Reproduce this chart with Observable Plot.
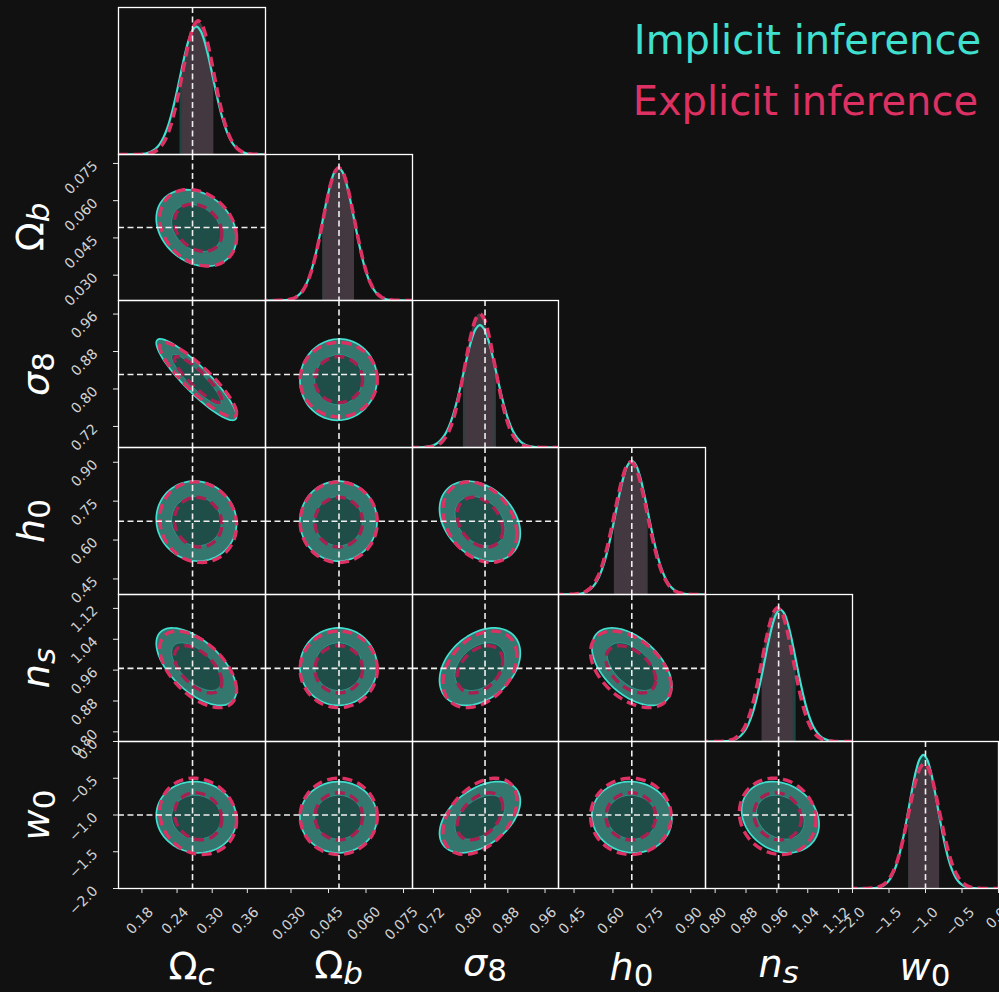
<!DOCTYPE html>
<html>
<head>
<meta charset="utf-8">
<script src="https://cdn.jsdelivr.net/npm/d3@7"></script>
<script src="https://cdn.jsdelivr.net/npm/@observablehq/plot@0.6"></script>
<style>
html,body{margin:0;padding:0;background:#111111;}
#fig{position:relative;width:999px;height:992px;background:#111111;overflow:hidden;font-family:"DejaVu Sans",sans-serif;}
#fig svg{position:absolute;left:0;top:0;}
.legend{position:absolute;right:18px;font-size:40px;line-height:40px;height:40px;white-space:nowrap;}
.plab{position:absolute;font-size:38px;line-height:38px;height:38px;color:#ffffff;white-space:nowrap;}
.plab .sub{font-size:31px;line-height:31px;vertical-align:-6px;}
.it{font-style:italic;}
</style>
</head>
<body>
<div id="fig"></div>
<script>
// ---------------- data ----------------
const params = ["Omega_c", "Omega_b", "sigma_8", "h_0", "n_s", "w_0"];
const labelMain = ["Ω", "Ω", "σ", "h", "n", "w"];
const labelSub = ["c", "b", "8", "0", "s", "0"];
const mainItalic = [false, false, true, true, true, true];
const subItalic = [true, true, false, false, true, false];

const truthValues = [0.2664, 0.0492, 0.831, 0.6727, 0.9645, -1.0];
const axisMin = [0.140, 0.0198, 0.675, 0.390, 0.775, -2.0];
const axisMax = [0.391, 0.0786, 0.989, 0.957, 1.156, 0.0];

const tickValues = [
  [0.18, 0.24, 0.30, 0.36],
  [0.030, 0.045, 0.060, 0.075],
  [0.72, 0.80, 0.88, 0.96],
  [0.45, 0.60, 0.75, 0.90],
  [0.80, 0.88, 0.96, 1.04, 1.12],
  [-2.0, -1.5, -1.0, -0.5, 0.0]
];
const tickLabels = [
  ["0.18", "0.24", "0.30", "0.36"],
  ["0.030", "0.045", "0.060", "0.075"],
  ["0.72", "0.80", "0.88", "0.96"],
  ["0.45", "0.60", "0.75", "0.90"],
  ["0.80", "0.88", "0.96", "1.04", "1.12"],
  ["−2.0", "−1.5", "−1.0", "−0.5", "0.0"]
];

// posterior summaries (peak position and 1-sigma width) per parameter
const implicitMean  = [0.273, 0.0490, 0.820, 0.673, 0.969, -1.030];
const implicitSigma = [0.0280, 0.0063, 0.0355, 0.0630, 0.0410, 0.198];
const explicitMean  = [0.276, 0.0491, 0.820, 0.669, 0.962, -1.018];
const explicitSigma = [0.0268, 0.0063, 0.0325, 0.0635, 0.0405, 0.212];

// parameter pairs (row, column) of the lower triangle and their correlations
const pairRow = [1, 2, 2, 3, 3, 3, 4, 4, 4, 4, 5, 5, 5, 5, 5];
const pairCol = [0, 0, 1, 0, 1, 2, 0, 1, 2, 3, 0, 1, 2, 3, 4];
const implicitCorr = [-0.25, -0.90, 0.02, -0.05, 0.00, -0.30, -0.60, 0.00, 0.35, -0.50, -0.05, 0.00, 0.45, -0.05, -0.20];
const explicitCorr = [-0.25, -0.89, 0.00, -0.08, 0.00, -0.30, -0.55, 0.00, 0.35, -0.45, -0.12, 0.00, 0.42, 0.00, -0.10];

// credible levels of the 2D contours
const contourLevels = [0.68, 0.95];

// marginal profile: relative height vs distance from the peak (in sigma units)
const marginalZ = [-16, -8, -5, -4, -3.5, -3.25, -3, -2.75, -2.5, -2.25, -2, -1.75, -1.5, -1.25, -1, -0.75, -0.5, -0.25, 0,
  0.25, 0.5, 0.75, 1, 1.25, 1.5, 1.75, 2, 2.25, 2.5, 2.75, 3, 3.25, 3.5, 4, 5, 8, 16];
const marginalShape = [0, 0, 0, 0.0003, 0.0022, 0.0051, 0.0111, 0.0228, 0.0439, 0.0796, 0.1353, 0.2163, 0.3247, 0.4578, 0.6065, 0.7548, 0.8825, 0.9692, 1,
  0.9692, 0.8825, 0.7548, 0.6065, 0.4578, 0.3247, 0.2163, 0.1353, 0.0796, 0.0439, 0.0228, 0.0111, 0.0051, 0.0022, 0.0003, 0, 0, 0];

const legendNames = ["Implicit inference", "Explicit inference"];

// ---------------- styles & layout ----------------
const C = {
  imp: "#40e0d0", exp: "#de3163", expInner: "#a8204f",
  fillOuter: "#33776f", fillInner: "#1f4e49", innerLine: "#2f968b",
  bandImp: "#1c4642", bandExp: "#43383f",
  frame: "#ffffff", truth: "#efefef", tick: "#d2d2d2"
};
const FW = 999, FH = 992;
const colEdges = [118, 265, 412, 558, 705, 852, 998];
const rowEdges = [7, 154, 300, 447, 594, 741, 888];
const fig = document.getElementById("fig");

function frameMargins(r, c) {
  return {marginLeft: colEdges[c], marginRight: FW - colEdges[c + 1], marginTop: rowEdges[r], marginBottom: FH - rowEdges[r + 1]};
}
function labelWidth(s, size) {
  let w = 0;
  for (const ch of s) w += ch === "." ? 0.318 : ch === "−" ? 0.838 : 0.636;
  return w * size;
}
const TICK_FS = 14;
const EXP_DASH = "10,5.5";
const TRUTH_DASH = "6,3.5";

function xAxisMarks(k) {
  const marks = [Plot.axisX({ticks: tickValues[k], tickSize: 5, tickFormat: () => "", label: null})];
  tickValues[k].forEach((v, i) => {
    const lab = tickLabels[k][i];
    marks.push(Plot.text([v], {
      x: d => d, text: () => lab, frameAnchor: "bottom",
      dy: 23 + 0.3 * labelWidth(lab, TICK_FS), dx: -2, rotate: -45,
      textAnchor: "middle", lineAnchor: "middle", fill: C.tick, fontSize: TICK_FS
    }));
  });
  return marks;
}
function yAxisMarks(k) {
  const marks = [Plot.axisY({ticks: tickValues[k], tickSize: 5, tickFormat: () => "", label: null})];
  tickValues[k].forEach((v, i) => {
    const lab = tickLabels[k][i];
    marks.push(Plot.text([v], {
      y: d => d, text: () => lab, frameAnchor: "left", dx: -23, rotate: -45,
      textAnchor: "end", lineAnchor: "middle", fill: C.tick, fontSize: TICK_FS
    }));
  });
  return marks;
}

function addPlot(r, c, xk, yDomain, marks, hasX, hasY) {
  const svg = Plot.plot({
    width: FW, height: FH, ...frameMargins(r, c),
    x: {domain: [axisMin[xk], axisMax[xk]], ...(hasX ? {} : {axis: null})},
    y: {domain: yDomain, ...(hasY ? {} : {axis: null})},
    style: {background: "transparent", color: "#e6e6e6", fontFamily: "DejaVu Sans, sans-serif", fontSize: "14px", overflow: "visible"},
    marks
  });
  fig.appendChild(svg);
}

// diagonal panels: 1D marginals
for (let k = 0; k < 6; k++) {
  const imp = marginalZ.map((z, i) => ({x: implicitMean[k] + z * implicitSigma[k], y: marginalShape[i] / implicitSigma[k], z}));
  const exp = marginalZ.map((z, i) => ({x: explicitMean[k] + z * explicitSigma[k], y: marginalShape[i] / explicitSigma[k], z}));
  const yMax = 1.1 * Math.max(1 / implicitSigma[k], 1 / explicitSigma[k]);
  const hasX = k === 5;
  const marks = [
    Plot.areaY(imp.filter(d => Math.abs(d.z) <= 1), {x: "x", y: "y", fill: C.bandImp, curve: "catmull-rom"}),
    Plot.areaY(exp.filter(d => Math.abs(d.z) <= 1), {x: "x", y: "y", fill: C.bandExp, curve: "catmull-rom"}),
    Plot.line(imp, {x: "x", y: "y", stroke: C.imp, strokeWidth: 2.2, curve: "catmull-rom", clip: true}),
    Plot.line(exp, {x: "x", y: "y", stroke: C.exp, strokeWidth: 3.6, strokeDasharray: EXP_DASH, strokeLinecap: "butt", curve: "catmull-rom", clip: true}),
    Plot.ruleX([truthValues[k]], {stroke: C.truth, strokeWidth: 1.6, strokeDasharray: TRUTH_DASH}),
    Plot.frame({stroke: C.frame, strokeWidth: 1.3}),
    ...(hasX ? xAxisMarks(k) : [])
  ];
  addPlot(k, k, k, [0, yMax], marks, hasX, false);
}

// lower-triangle panels: 2D contours
function ellipse(i, j, mean, sigma, rho, prob) {
  const rad = Math.sqrt(-2 * Math.log(1 - prob));
  const s = Math.sqrt(1 - rho * rho);
  return d3.range(0, 361, 4).map(a => {
    const t = a * Math.PI / 180;
    return {x: mean[i] + rad * sigma[i] * Math.cos(t), y: mean[j] + rad * sigma[j] * (rho * Math.cos(t) + s * Math.sin(t))};
  });
}
for (let p = 0; p < pairRow.length; p++) {
  const j = pairRow[p], i = pairCol[p];
  const hasX = j === 5, hasY = i === 0;
  const marks = [
    Plot.line(ellipse(i, j, implicitMean, implicitSigma, implicitCorr[p], contourLevels[1]), {x: "x", y: "y", fill: C.fillOuter, stroke: C.imp, strokeWidth: 1.7}),
    Plot.line(ellipse(i, j, implicitMean, implicitSigma, implicitCorr[p], contourLevels[0]), {x: "x", y: "y", fill: C.fillInner, stroke: C.innerLine, strokeWidth: 1}),
    Plot.line(ellipse(i, j, explicitMean, explicitSigma, explicitCorr[p], contourLevels[1]), {x: "x", y: "y", stroke: C.exp, strokeWidth: 3.4, strokeDasharray: EXP_DASH, strokeLinecap: "butt"}),
    Plot.line(ellipse(i, j, explicitMean, explicitSigma, explicitCorr[p], contourLevels[0]), {x: "x", y: "y", stroke: C.expInner, strokeWidth: 3.4, strokeDasharray: EXP_DASH, strokeLinecap: "butt"}),
    Plot.ruleX([truthValues[i]], {stroke: C.truth, strokeWidth: 1.6, strokeDasharray: TRUTH_DASH}),
    Plot.ruleY([truthValues[j]], {stroke: C.truth, strokeWidth: 1.6, strokeDasharray: TRUTH_DASH}),
    Plot.frame({stroke: C.frame, strokeWidth: 1.3}),
    ...(hasX ? xAxisMarks(i) : []),
    ...(hasY ? yAxisMarks(j) : [])
  ];
  addPlot(j, i, i, [axisMin[j], axisMax[j]], marks, hasX, hasY);
}

// ---------------- parameter labels ----------------
const BASE = 32.15; // baseline offset inside a 38px line box
function makeLabel(k) {
  const d = document.createElement("div");
  d.className = "plab";
  const m = document.createElement("span");
  m.textContent = labelMain[k];
  if (mainItalic[k]) m.className = "it";
  const s = document.createElement("span");
  s.textContent = labelSub[k];
  s.className = "sub" + (subItalic[k] ? " it" : "");
  d.append(m, s);
  fig.appendChild(d);
  return d;
}
const bottomBaseline = [979, 978, 975, 980, 977, 980];
for (let k = 0; k < 6; k++) {
  const d = makeLabel(k);
  d.style.left = ((colEdges[k] + colEdges[k + 1]) / 2) + "px";
  d.style.top = (bottomBaseline[k] - BASE) + "px";
  d.style.transform = "translateX(-50%)";
}
const leftBaseline = [0, 43, 48, 44, 49, 49];
for (let k = 1; k < 6; k++) {
  const d = makeLabel(k);
  d.style.left = (leftBaseline[k] - (BASE - 19)) + "px";
  d.style.top = ((rowEdges[k] + rowEdges[k + 1]) / 2) + "px";
  d.style.transform = "translate(-50%,-50%) rotate(-90deg)";
}

// ---------------- legend ----------------
const legendBaseline = [53.5, 115];
legendNames.forEach((name, i) => {
  const d = document.createElement("div");
  d.className = "legend";
  d.textContent = name;
  d.style.color = i === 0 ? C.imp : C.exp;
  d.style.top = (legendBaseline[i] - 33.84) + "px";
  d.style.right = (i === 0 ? 18 : 21) + "px";
  fig.appendChild(d);
});
</script>
</body>
</html>
